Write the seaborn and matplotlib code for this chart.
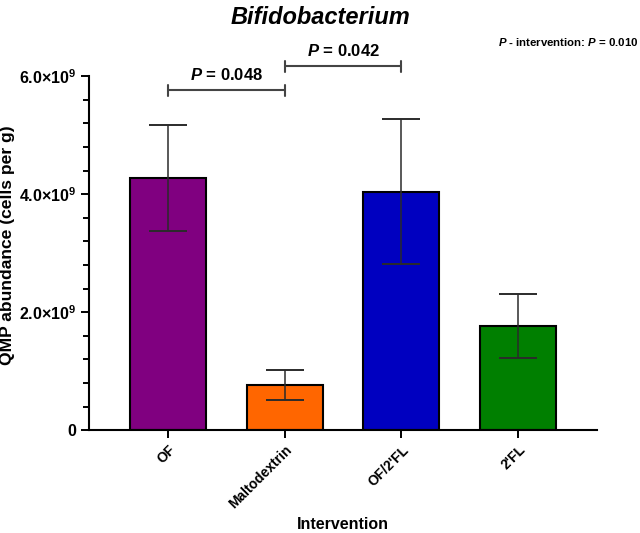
import matplotlib
matplotlib.use("Agg")
import matplotlib.pyplot as plt
import seaborn as sns
import numpy as np
import pandas as pd
from matplotlib.ticker import MultipleLocator, FixedLocator, FixedFormatter

groups = ["OF", "Maltodextrin", "OF/2'FL", "2'FL"]
means = [4.28e9, 0.76e9, 4.04e9, 1.76e9]
err_low = [0.90e9, 0.25e9, 1.22e9, 0.53e9]
err_high = [0.90e9, 0.26e9, 1.23e9, 0.54e9]
bar_colors = ["#800080", "#FF6600", "#0000C0", "#007F00"]
yticks = [0, 2e9, 4e9, 6e9]
ytick_labels = ["0", r"2.0$\times$10$^{9}$", r"4.0$\times$10$^{9}$", r"6.0$\times$10$^{9}$"]
comparisons = [(0, 1, "0.048"), (1, 2, "0.042")]

sns.set_style("ticks")
plt.rcParams['font.family'] = ['Liberation Sans', 'DejaVu Sans']
plt.rcParams['mathtext.fontset'] = 'custom'
plt.rcParams['mathtext.rm'] = 'Liberation Sans:bold'
plt.rcParams['mathtext.it'] = 'Liberation Sans:italic:bold'
plt.rcParams['mathtext.bf'] = 'Liberation Sans:bold'
for key in ['text.color', 'axes.labelcolor', 'xtick.color', 'ytick.color', 'axes.edgecolor']:
    plt.rcParams[key] = 'black'

df = pd.DataFrame({"Intervention": groups, "value": means})

fig = plt.figure(figsize=(6.4, 5.33), dpi=100)
ax = fig.add_axes([0.139, 0.193, 0.794, 0.664])
sns.barplot(data=df, x="Intervention", y="value", hue="Intervention", palette=bar_colors,
            saturation=1, width=0.65, edgecolor="black", linewidth=1.5, errorbar=None,
            legend=False, ax=ax)
ax.errorbar(range(len(groups)), means, yerr=[err_low, err_high], fmt="none",
            ecolor="#2b2b2b", elinewidth=1.1, capsize=14, capthick=1.4, zorder=5)

ax.set_xlim(-0.676, 3.676)
ax.set_ylim(0, 6e9)
ax.yaxis.set_major_locator(FixedLocator(yticks))
ax.yaxis.set_major_formatter(FixedFormatter(ytick_labels))
ax.yaxis.set_minor_locator(MultipleLocator(0.4e9))
ax.tick_params(axis="y", which="major", length=6, width=1.4, labelsize=11.5, pad=3)
ax.tick_params(axis="y", which="minor", length=4, width=1.4)
ax.tick_params(axis="x", which="major", length=6, width=1.4, labelsize=10, pad=3)
for lbl in ax.get_xticklabels():
    lbl.set_rotation(45)
    lbl.set_ha("right")
    lbl.set_rotation_mode("anchor")
    lbl.set_fontweight("bold")
for lbl in ax.get_yticklabels():
    lbl.set_fontweight("bold")
for s in ["left", "bottom"]:
    ax.spines[s].set_linewidth(1.5)
sns.despine(ax=ax)

ax.set_xlabel("Intervention", fontsize=11.5, fontweight="bold")
ax.set_ylabel("QMP abundance (cells per g)", fontsize=12.6, fontweight="bold")
ax.xaxis.set_label_coords(0.5, -0.245)
ax.yaxis.set_label_coords(-0.146, 0.523)

# significance brackets
for k, (a, b, p) in enumerate(comparisons):
    y = 5.76e9 + k * 0.41e9
    ax.plot([a, b], [y, y], color="#444444", lw=1.5, clip_on=False)
    for xx in (a, b):
        ax.plot([xx, xx], [y - 0.09e9, y + 0.09e9], color="#444444", lw=1.5, clip_on=False)
    ax.text((a + b) / 2, y + 0.12e9, r"$P$ = " + p, ha="center", va="bottom",
            fontsize=12, fontweight="bold", clip_on=False)

fig.text(0.5, 0.968, "Bifidobacterium", ha="center", va="center",
         fontsize=17, fontweight="bold", fontstyle="italic")
fig.text(0.997, 0.921, r"$P$ - intervention: $P$ = 0.010", ha="right", va="center",
         fontsize=8.2, fontweight="bold")

fig.savefig("out.png", dpi=100)
